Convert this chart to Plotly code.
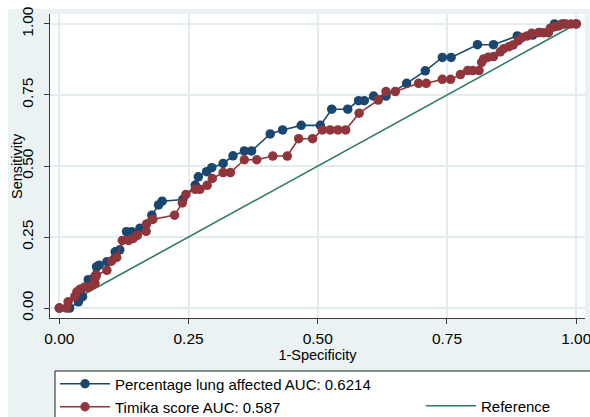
import plotly.graph_objects as go

# ROC coordinates: (1 - specificity, sensitivity)
lung_fpr = [0.0, 0.020, 0.037, 0.045, 0.056, 0.072, 0.077, 0.092, 0.108, 0.117,
            0.130, 0.140, 0.156, 0.179, 0.192, 0.199, 0.239, 0.263, 0.269, 0.285,
            0.295, 0.317, 0.336, 0.358, 0.372, 0.408, 0.432, 0.468, 0.505, 0.527,
            0.558, 0.579, 0.590, 0.608, 0.632, 0.672, 0.708, 0.741, 0.758, 0.809,
            0.840, 0.886, 0.916, 0.929, 0.946, 0.958, 0.975, 1.0]
lung_tpr = [0.0, 0.0, 0.022, 0.040, 0.100, 0.145, 0.151, 0.163, 0.198, 0.205,
            0.269, 0.269, 0.281, 0.327, 0.363, 0.376, 0.382, 0.433, 0.462, 0.480,
            0.494, 0.509, 0.536, 0.553, 0.553, 0.613, 0.627, 0.643, 0.643, 0.700,
            0.700, 0.730, 0.730, 0.746, 0.746, 0.791, 0.835, 0.882, 0.882, 0.927,
            0.927, 0.958, 0.961, 0.970, 0.970, 1.0, 1.0, 1.0]

timika_fpr = [0.0, 0.014, 0.017, 0.030, 0.034, 0.040, 0.048, 0.056, 0.063, 0.069,
              0.069, 0.072, 0.092, 0.101, 0.111, 0.122, 0.134, 0.143, 0.151, 0.168,
              0.169, 0.181, 0.223, 0.238, 0.245, 0.263, 0.272, 0.286, 0.296, 0.317,
              0.331, 0.358, 0.382, 0.413, 0.441, 0.463, 0.490, 0.509, 0.524, 0.539,
              0.554, 0.580, 0.617, 0.632, 0.650, 0.695, 0.710, 0.741, 0.757, 0.776,
              0.790, 0.800, 0.812, 0.817, 0.821, 0.830, 0.840, 0.853, 0.860, 0.870,
              0.878, 0.888, 0.895, 0.905, 0.914, 0.927, 0.937, 0.946, 0.950, 0.958,
              0.966, 0.972, 0.980, 0.990, 1.0]
timika_tpr = [0.0, 0.0, 0.022, 0.040, 0.057, 0.066, 0.073, 0.073, 0.081, 0.087,
              0.105, 0.116, 0.133, 0.165, 0.178, 0.238, 0.238, 0.245, 0.256, 0.270,
              0.296, 0.312, 0.327, 0.370, 0.400, 0.418, 0.418, 0.432, 0.456, 0.477,
              0.477, 0.522, 0.522, 0.535, 0.535, 0.596, 0.596, 0.627, 0.627, 0.627,
              0.627, 0.686, 0.732, 0.762, 0.762, 0.791, 0.791, 0.805, 0.805, 0.822,
              0.836, 0.836, 0.836, 0.865, 0.877, 0.883, 0.885, 0.902, 0.913, 0.920,
              0.926, 0.941, 0.952, 0.958, 0.967, 0.969, 0.969, 0.969, 0.985, 0.990,
              0.993, 1.0, 1.0, 1.0, 1.0]

ref_x = [0.0, 1.0]
ref_y = [0.0, 1.0]

tick_vals = [0.0, 0.25, 0.5, 0.75, 1.0]
tick_text = ["0.00", "0.25", "0.50", "0.75", "1.00"]

lung_label = "Percentage lung affected AUC: 0.6214"
timika_label = "Timika score AUC: 0.587"
ref_label = "Reference"
x_title = "1-Specificity"
y_title = "Sensitivity"

NAVY = "#1a476f"
MAROON = "#90353b"
GREEN = "#2f7a67"
BG = "#eaf2f3"
GRID = "#e3ecee"
AXIS = "#3c3c3c"
FONT = "Liberation Sans, Arial, sans-serif"

fig = go.Figure()

fig.add_trace(go.Scatter(
    x=ref_x, y=ref_y, mode="lines", name=ref_label,
    line=dict(color=GREEN, width=1.6), legend="legend3"))

fig.add_trace(go.Scatter(
    x=lung_fpr, y=lung_tpr, mode="lines+markers", name=lung_label,
    line=dict(color=NAVY, width=1.6),
    marker=dict(color=NAVY, size=9.5), legend="legend"))

fig.add_trace(go.Scatter(
    x=timika_fpr, y=timika_tpr, mode="lines+markers", name=timika_label,
    line=dict(color=MAROON, width=1.6),
    marker=dict(color=MAROON, size=9.5), legend="legend2"))

legend_style = dict(
    xanchor="left", yanchor="middle", bgcolor="rgba(0,0,0,0)",
    borderwidth=0, font=dict(family=FONT, size=15, color="#000000"),
    itemwidth=50)

fig.update_layout(
    width=590, height=417,
    margin=dict(l=50, r=5, t=14, b=99, autoexpand=False),
    paper_bgcolor=BG, plot_bgcolor="white",
    font=dict(family=FONT, size=14, color="#000000"),
    showlegend=True,
    legend=dict(x=5 / 535, y=-66 / 304, **legend_style),
    legend2=dict(x=5 / 535, y=-89 / 304, **legend_style),
    legend3=dict(x=371 / 535, y=-88 / 304, **legend_style),
    xaxis=dict(
        range=[-0.018, 1.017], tickvals=tick_vals, ticktext=tick_text,
        showgrid=True, gridcolor=GRID, gridwidth=1.5, zeroline=False,
        showline=True, linecolor=AXIS, linewidth=1,
        ticks="outside", ticklen=5, tickcolor=AXIS,
        tickfont=dict(size=15.5), ticklabelstandoff=1,
        ticklabeloverflow="allow", automargin=False,
        title=dict(text=x_title, font=dict(size=14.5), standoff=1)),
    yaxis=dict(
        range=[-0.035, 1.035], tickvals=tick_vals, ticktext=tick_text,
        tickangle=-90,
        showgrid=True, gridcolor=GRID, gridwidth=1.5, zeroline=False,
        showline=True, linecolor=AXIS, linewidth=1,
        ticks="outside", ticklen=5, tickcolor=AXIS,
        tickfont=dict(size=15.5), ticklabelstandoff=5,
        ticklabeloverflow="allow", automargin=False),
    annotations=[
        # vertical y-axis title placed just left of the tick labels
        dict(text=y_title, xref="paper", yref="paper",
             x=-33 / 535, y=0.5, xanchor="center", yanchor="middle",
             textangle=-90, showarrow=False,
             font=dict(family=FONT, size=14.5, color="#000000")),
    ],
    shapes=[
        # white margin strips along the top and left edges
        dict(type="rect", xref="paper", yref="paper",
             x0=-0.2, x1=1.1, y0=1.0 + 5 / 304, y1=1.2,
             fillcolor="white", line=dict(width=0), layer="below"),
        dict(type="rect", xref="paper", yref="paper",
             x0=-0.2, x1=-42 / 535, y0=-0.5, y1=1.2,
             fillcolor="white", line=dict(width=0), layer="below"),
        # legend frame
        dict(type="rect", xref="paper", yref="paper",
             x0=5 / 535, x1=1.03, y0=-0.4, y1=-53 / 304,
             fillcolor="white", line=dict(color="#1e1e1e", width=1),
             layer="below"),
    ],
)

fig.write_html("out.html")
